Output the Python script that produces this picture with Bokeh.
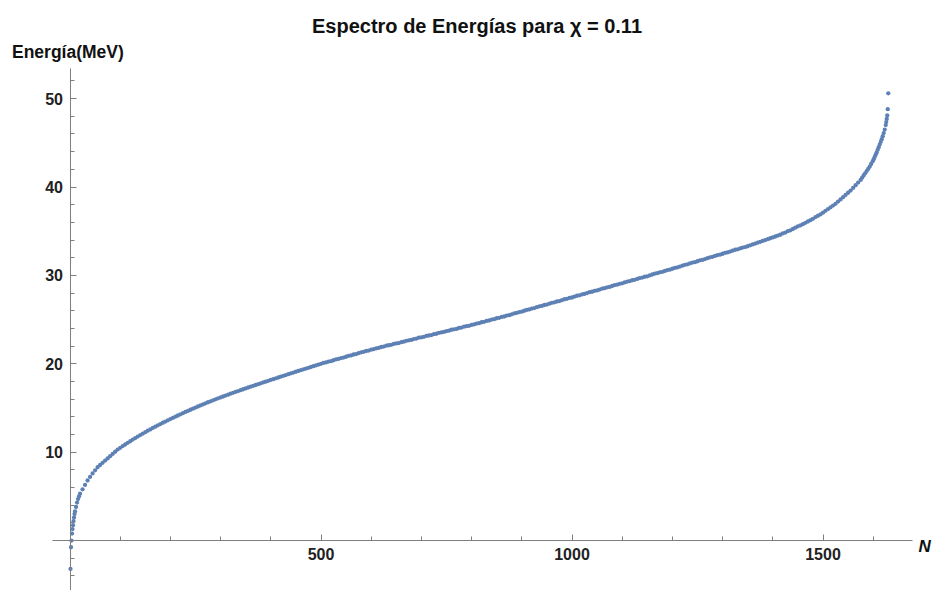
from bokeh.plotting import figure
from bokeh.models import LinearAxis, FixedTicker, Label, Range1d, ColumnDataSource
from bokeh.embed import file_html
from bokeh.resources import INLINE

title_text = "Espectro de Energías para χ = 0.11"
y_label_text = "Energía(MeV)"
x_label_text = "N"

x_major = [500, 1000, 1500]
x_minor = [100, 200, 300, 400, 600, 700, 800, 900, 1100, 1200, 1300, 1400, 1600]
y_major = [10, 20, 30, 40, 50]
y_minor = [-4, -2, 2, 4, 6, 8, 12, 14, 16, 18, 22, 24, 26, 28, 32, 34, 36, 38, 42, 44, 46, 48, 52]

# level index / energy (MeV)
N_start = [1, 2, 3, 4, 5, 6, 7, 8, 9, 10, 12, 14, 16, 18, 20]
E_start = [-3.2, -0.75, 0.0, 0.8, 1.3, 1.75, 2.2, 2.6, 3.0, 3.3, 3.8, 4.3, 4.7, 5.0, 5.3]

N_mid = list(range(25, 1576, 5))
E_mid = [
    5.8, 6.3, 6.8, 7.2, 7.6, 7.95, 8.3, 8.55, 8.8, 9.05, 9.3, 9.55, 9.8, 10.05, 10.3, 10.5,
    10.69, 10.87, 11.06, 11.24, 11.43, 11.6, 11.77, 11.94, 12.1, 12.27, 12.43, 12.58, 12.74, 12.89, 13.04, 13.18, 13.33, 13.47, 13.61, 13.75,
    13.88, 14.02, 14.15, 14.29, 14.42, 14.55, 14.67, 14.8, 14.92, 15.05, 15.17, 15.29, 15.41, 15.53, 15.65, 15.76, 15.87, 15.98, 16.09, 16.2,
    16.3, 16.41, 16.51, 16.62, 16.72, 16.82, 16.92, 17.02, 17.12, 17.22, 17.32, 17.41, 17.51, 17.6, 17.7, 17.79, 17.89, 17.98, 18.08, 18.17,
    18.26, 18.36, 18.45, 18.54, 18.64, 18.73, 18.82, 18.92, 19.01, 19.1, 19.19, 19.28, 19.37, 19.46, 19.55, 19.64, 19.73, 19.82, 19.91, 20.0,
    20.1, 20.15, 20.25, 20.3, 20.4, 20.5, 20.55, 20.65, 20.7, 20.8, 20.9, 20.95, 21.05, 21.1, 21.2, 21.3, 21.35, 21.45, 21.5, 21.6,
    21.65, 21.75, 21.8, 21.9, 21.95, 22.05, 22.1, 22.15, 22.25, 22.3, 22.35, 22.45, 22.5, 22.6, 22.65, 22.7, 22.8, 22.85, 22.95, 23.0,
    23.05, 23.15, 23.2, 23.25, 23.35, 23.4, 23.5, 23.55, 23.6, 23.7, 23.75, 23.85, 23.9, 23.95, 24.05, 24.1, 24.2, 24.25, 24.3, 24.4,
    24.45, 24.55, 24.6, 24.7, 24.75, 24.85, 24.9, 25.0, 25.05, 25.15, 25.2, 25.3, 25.35, 25.45, 25.5, 25.6, 25.7, 25.75, 25.85, 25.9,
    26.0, 26.1, 26.15, 26.25, 26.3, 26.4, 26.5, 26.55, 26.65, 26.7, 26.8, 26.9, 26.95, 27.05, 27.1, 27.2, 27.3, 27.35, 27.45, 27.5,
    27.6, 27.7, 27.75, 27.85, 27.9, 28.0, 28.1, 28.15, 28.25, 28.3, 28.4, 28.5, 28.55, 28.65, 28.7, 28.8, 28.9, 28.95, 29.05, 29.1,
    29.2, 29.3, 29.35, 29.45, 29.5, 29.6, 29.7, 29.75, 29.85, 29.9, 30.0, 30.1, 30.2, 30.25, 30.35, 30.4, 30.5, 30.6, 30.65, 30.75,
    30.85, 30.9, 31.0, 31.1, 31.2, 31.25, 31.35, 31.45, 31.5, 31.6, 31.7, 31.75, 31.85, 31.95, 32.05, 32.1, 32.2, 32.3, 32.35, 32.45,
    32.55, 32.6, 32.7, 32.8, 32.9, 32.95, 33.05, 33.15, 33.2, 33.3, 33.4, 33.5, 33.6, 33.7, 33.8, 33.9, 34.0, 34.1, 34.2, 34.3,
    34.4, 34.5, 34.6, 34.75, 34.85, 35.0, 35.1, 35.25, 35.4, 35.55, 35.65, 35.8, 35.95, 36.1, 36.25, 36.4, 36.6, 36.75, 36.9, 37.1,
    37.3, 37.5, 37.7, 37.9, 38.1, 38.35, 38.6, 38.85, 39.1, 39.35, 39.6, 39.9, 40.2, 40.5, 40.8,
]

N_end = [1578, 1581, 1584, 1587, 1590, 1593, 1596, 1599, 1601, 1603, 1605, 1607, 1609,
         1611, 1613, 1615, 1617, 1619, 1621, 1623, 1625, 1626, 1627, 1628, 1629, 1630]
E_end = [41.05, 41.3, 41.55, 41.8, 42.05, 42.3, 42.6, 42.9, 43.15, 43.4, 43.65, 43.9, 44.2,
         44.5, 44.8, 45.1, 45.4, 45.75, 46.1, 46.5, 47.0, 47.35, 47.7, 48.1, 48.8, 50.6]

N_all = N_start + N_mid + N_end
E_all = E_start + E_mid + E_end
n = min(len(N_all), len(E_all))
source = ColumnDataSource(data=dict(N=N_all[:n], E=E_all[:n]))

# the page is drawn from the top-left corner of the window
W, H = 936, 590
PX_PER_N = 0.502
PX_PER_E = 8.84
X_ORIGIN_PX, Y_ORIGIN_PX = 69.5, 540.1
X0 = (0 - X_ORIGIN_PX) / PX_PER_N
X1 = (W - X_ORIGIN_PX) / PX_PER_N
Y1 = Y_ORIGIN_PX / PX_PER_E
Y0 = (Y_ORIGIN_PX - H) / PX_PER_E


def dx(px):
    return (px - X_ORIGIN_PX) / PX_PER_N


def dy(py):
    return (Y_ORIGIN_PX - py) / PX_PER_E


p = figure(width=W, height=H, x_range=Range1d(X0, X1), y_range=Range1d(Y0, Y1),
           x_axis_location=None, y_axis_location=None, toolbar_location=None,
           output_backend="svg", min_border=0)
p.outline_line_color = None
p.background_fill_color = "white"
p.border_fill_color = "white"
p.xgrid.visible = False
p.ygrid.visible = False

axis_color = "#7f7f7f"
label_font = "Liberation Sans"


def style_axis(ax):
    ax.axis_line_color = axis_color
    ax.axis_line_width = 1
    ax.major_tick_line_color = axis_color
    ax.minor_tick_line_color = axis_color
    ax.major_tick_in = 6
    ax.major_tick_out = 0
    ax.minor_tick_in = 4
    ax.minor_tick_out = 0
    ax.major_label_text_font = label_font
    ax.major_label_text_font_size = "16px"
    ax.major_label_text_font_style = "bold"
    ax.major_label_text_color = "#222222"
    ax.major_label_standoff = 7


xaxis = LinearAxis(fixed_location=0, ticker=FixedTicker(ticks=x_major, minor_ticks=x_minor),
                   bounds=(dx(52), dx(912)))
style_axis(xaxis)
p.add_layout(xaxis, "below")

yaxis = LinearAxis(fixed_location=0, ticker=FixedTicker(ticks=y_major, minor_ticks=y_minor),
                   bounds=(Y0 - 1, dy(68)))
style_axis(yaxis)
p.add_layout(yaxis, "left")

p.scatter("N", "E", source=source, size=4.3, color="#5E81B5", line_color=None)

p.add_layout(Label(x=dx(476.5), y=dy(25), text=title_text, text_align="center",
                   text_baseline="alphabetic", text_font=label_font, text_font_size="20px",
                   text_font_style="bold", text_color="#111111"))
p.add_layout(Label(x=dx(11.5), y=dy(51), text=y_label_text, text_align="left",
                   text_baseline="alphabetic", text_font=label_font, text_font_size="17.5px",
                   text_font_style="bold", text_color="#111111"))
p.add_layout(Label(x=dx(918), y=dy(546), text=x_label_text, text_align="left",
                   text_baseline="alphabetic", text_font=label_font, text_font_size="17px",
                   text_font_style="bold italic", text_color="#111111"))

open("out.html", "w").write(file_html(p, INLINE))
